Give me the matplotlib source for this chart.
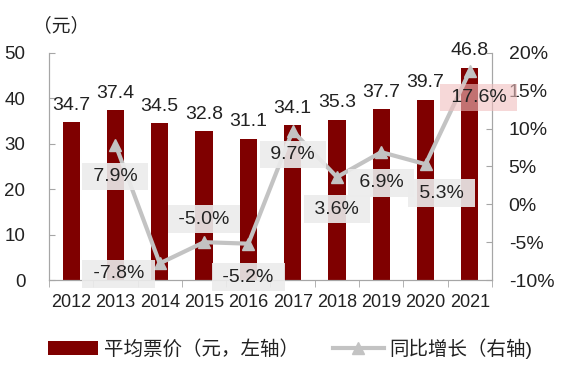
import matplotlib
matplotlib.use("Agg")
import matplotlib.pyplot as plt
import numpy as np

plt.rcParams['font.family'] = ['Liberation Sans', 'Noto Sans CJK SC', 'DejaVu Sans']

# data
years = ["2012", "2013", "2014", "2015", "2016", "2017", "2018", "2019", "2020", "2021"]
price = [34.7, 37.4, 34.5, 32.8, 31.1, 34.1, 35.3, 37.7, 39.7, 46.8]
growth_years = years[1:]
growth = [7.9, -7.8, -5.0, -5.2, 9.7, 3.6, 6.9, 5.3, 17.6]

bar_color = "#7F0000"
line_color = "#C3C3C3"
axis_color = "#A6A6A6"
text_color = "#222222"

fig = plt.figure(figsize=(5.62, 3.70), dpi=100)
ax = fig.add_axes([0.0872, 0.2432, 0.7882, 0.6136])
ax2 = ax.twinx()

x = np.arange(len(years))
bars = ax.bar(x, price, width=0.39, color=bar_color, zorder=2, label="平均票价（元，左轴）")
for xi, v in zip(x, price):
    ax.annotate(f"{v:.1f}", (xi, v), xytext=(0, 6), textcoords="offset points",
                ha="center", va="bottom", fontsize=14, color=text_color)

gx = x[1:]
line, = ax2.plot(gx, growth, color=line_color, lw=3, marker="^", markersize=9,
                 zorder=3, label="同比增长（右轴)")
# label offsets in points (dx, dy)
offs = [(0, -23), (-29.5, -7.5), (0, 16.5), (0, -24), (0, -17),
        (0, -23), (0, -22), (11.5, -21), (6.5, -19)]
for xi, v, (dx, dy) in zip(gx, growth, offs):
    if v == max(growth):
        fc, al = "#F0BEBE", 0.6
    else:
        fc, al = "#ECECEC", 0.9
    ax2.annotate(f" {v:.1f}% ", (xi, v), xytext=(dx, dy), textcoords="offset points",
                 ha="center", va="center", fontsize=14, color=text_color, zorder=5,
                 bbox=dict(boxstyle="square,pad=0.28", fc=fc, ec="none", alpha=al))

ax.set_xlim(-0.5, 9.5)
ax.set_ylim(0, 50)
ax.set_yticks([0, 10, 20, 30, 40, 50])
ax2.set_ylim(-10, 20)
ax2.set_yticks([-10, -5, 0, 5, 10, 15, 20])
ax2.set_yticklabels([f"{t}%" for t in range(-10, 21, 5)])

ax.set_xticks(x)
ax.set_xticklabels(years)
ax.set_xticks(np.arange(-0.5, 10, 1), minor=True)
ax.tick_params(axis="x", which="major", length=0, labelsize=13, colors=text_color, pad=10)
ax.tick_params(axis="x", which="minor", length=5, color=axis_color, direction="out")
ax.tick_params(axis="y", direction="in", length=4, color=axis_color, labelsize=13.5,
               labelcolor=text_color, pad=17)
ax2.tick_params(axis="y", direction="in", length=4, color=axis_color, labelsize=14,
                labelcolor=text_color, pad=12)

for a in (ax, ax2):
    a.spines["top"].set_visible(False)
    for s in ("left", "right", "bottom"):
        a.spines[s].set_color(axis_color)
ax.set_zorder(1)
ax2.set_zorder(2)
ax.patch.set_visible(False)

fig.text(0.058, 0.93, "（元）", fontsize=13.5, color=text_color, ha="left", va="center")

handles = [bars, line]
fig.legend(handles, [h.get_label() for h in handles], loc="center",
           bbox_to_anchor=(0.516, 0.058), ncol=2, frameon=False, fontsize=14,
           handlelength=2.6, columnspacing=1.75, handletextpad=0.3,
           labelcolor=text_color)

fig.savefig("out.png", dpi=100)
